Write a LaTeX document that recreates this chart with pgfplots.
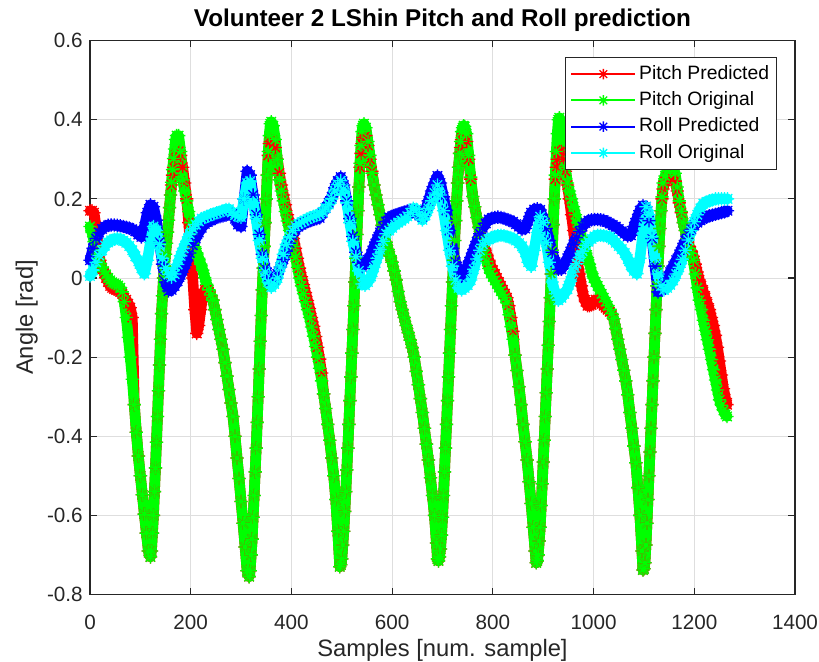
\documentclass[border=0pt]{standalone}
\usepackage{fontspec}
\setmainfont{Liberation Sans}
\usepackage{pgfplots}
\usepackage{pgfplotstable}
\pgfplotsset{compat=1.18}
\definecolor{axgray}{rgb}{0.15,0.15,0.15}
\definecolor{gridgray}{rgb}{0.87,0.87,0.87}
\definecolor{mred}{rgb}{1,0,0}
\definecolor{mgreen}{rgb}{0,1,0}
\definecolor{mblue}{rgb}{0,0,1}
\definecolor{mcyan}{rgb}{0,1,1}
\pgfdeclareplotmark{mstar}{%
  \pgfpathmoveto{\pgfqpoint{-\pgfplotmarksize}{0pt}}\pgfpathlineto{\pgfqpoint{\pgfplotmarksize}{0pt}}%
  \pgfpathmoveto{\pgfqpoint{0pt}{-\pgfplotmarksize}}\pgfpathlineto{\pgfqpoint{0pt}{\pgfplotmarksize}}%
  \pgfpathmoveto{\pgfqpoint{-0.7071\pgfplotmarksize}{-0.7071\pgfplotmarksize}}\pgfpathlineto{\pgfqpoint{0.7071\pgfplotmarksize}{0.7071\pgfplotmarksize}}%
  \pgfpathmoveto{\pgfqpoint{-0.7071\pgfplotmarksize}{0.7071\pgfplotmarksize}}\pgfpathlineto{\pgfqpoint{0.7071\pgfplotmarksize}{-0.7071\pgfplotmarksize}}%
  \pgfusepathqstroke}

\pgfplotstableread{
s po pp
0 0.130 0.170
4 0.115 0.170
8 0.092 0.165
12 0.070 0.130
16 0.050 0.080
20 0.036 0.045
24 0.026 0.025
28 0.017 0.012
32 0.009 0.000
36 0.000 -0.010
40 -0.006 -0.020
44 -0.011 -0.025
48 -0.014 -0.028
52 -0.016 -0.030
56 -0.019 -0.032
60 -0.025 -0.035
64 -0.035 -0.040
68 -0.060 -0.050
72 -0.100 -0.055
76 -0.150 -0.065
80 -0.200 -0.075
84 -0.256 -0.100
88 -0.320 -0.320
92 -0.390 -0.390
96 -0.450 -0.450
100 -0.500 -0.500
104 -0.548 -0.548
108 -0.597 -0.597
112 -0.645 -0.645
116 -0.690 -0.690
120 -0.705 -0.705
122 -0.690 -0.690
124 -0.645 -0.645
126 -0.600 -0.600
128 -0.540 -0.540
130 -0.480 -0.480
132 -0.415 -0.415
134 -0.350 -0.350
136 -0.285 -0.285
138 -0.220 -0.220
140 -0.155 -0.155
142 -0.090 -0.090
144 -0.045 -0.045
146 0.000 0.000
148 0.030 0.030
150 0.060 0.060
152 0.088 0.088
154 0.116 0.116
156 0.146 0.146
158 0.178 0.178
160 0.210 0.210
162 0.242 0.235
164 0.274 0.260
166 0.302 0.280
168 0.326 0.300
170 0.350 0.310
172 0.360 0.315
176 0.360 0.320
180 0.320 0.310
184 0.248 0.280
188 0.220 0.240
192 0.195 0.200
196 0.168 0.140
200 0.140 0.070
204 0.110 0.000
208 0.079 -0.080
212 0.064 -0.140
216 0.050 -0.120
220 0.035 -0.080
224 0.020 -0.045
228 0.001 -0.030
232 -0.016 -0.030
236 -0.030 -0.035
240 -0.043 -0.045
244 -0.056 -0.056
248 -0.080 -0.080
252 -0.105 -0.105
256 -0.130 -0.130
260 -0.155 -0.155
264 -0.180 -0.180
268 -0.214 -0.214
272 -0.248 -0.248
276 -0.282 -0.282
280 -0.316 -0.316
284 -0.350 -0.350
288 -0.400 -0.400
292 -0.455 -0.455
296 -0.507 -0.507
300 -0.565 -0.565
304 -0.620 -0.620
308 -0.680 -0.680
312 -0.740 -0.740
316 -0.755 -0.755
318 -0.740 -0.740
320 -0.700 -0.700
322 -0.660 -0.660
324 -0.605 -0.605
326 -0.550 -0.550
328 -0.490 -0.490
330 -0.430 -0.430
332 -0.365 -0.365
334 -0.300 -0.300
336 -0.230 -0.230
338 -0.160 -0.160
340 -0.095 -0.095
342 -0.030 -0.030
344 0.025 0.025
346 0.080 0.080
348 0.140 0.140
350 0.200 0.200
352 0.260 0.260
354 0.320 0.310
356 0.360 0.340
358 0.390 0.345
360 0.395 0.350
364 0.385 0.345
368 0.350 0.330
372 0.300 0.300
376 0.248 0.265
380 0.220 0.235
384 0.195 0.210
388 0.168 0.185
392 0.144 0.160
396 0.120 0.140
400 0.100 0.120
404 0.080 0.100
408 0.053 0.075
412 0.027 0.050
416 0.000 0.025
420 -0.020 0.003
424 -0.040 -0.017
428 -0.060 -0.037
432 -0.080 -0.057
436 -0.100 -0.077
440 -0.124 -0.100
444 -0.147 -0.122
448 -0.173 -0.148
452 -0.200 -0.175
456 -0.228 -0.205
460 -0.260 -0.240
464 -0.293 -0.293
468 -0.330 -0.330
472 -0.370 -0.370
476 -0.410 -0.410
480 -0.455 -0.455
484 -0.500 -0.500
488 -0.560 -0.560
492 -0.640 -0.640
496 -0.730 -0.730
498 -0.725 -0.725
500 -0.710 -0.710
502 -0.675 -0.675
504 -0.640 -0.640
506 -0.590 -0.590
508 -0.540 -0.540
510 -0.485 -0.485
512 -0.430 -0.430
514 -0.370 -0.370
516 -0.310 -0.310
518 -0.250 -0.250
520 -0.190 -0.190
522 -0.130 -0.130
524 -0.070 -0.070
526 -0.010 -0.010
528 0.050 0.050
530 0.110 0.110
532 0.170 0.170
534 0.230 0.230
536 0.290 0.280
538 0.335 0.315
540 0.370 0.340
542 0.385 0.355
544 0.390 0.360
548 0.380 0.360
552 0.345 0.335
556 0.310 0.300
560 0.265 0.270
564 0.235 0.235
568 0.210 0.210
572 0.185 0.185
576 0.160 0.160
580 0.133 0.133
584 0.110 0.110
588 0.090 0.090
592 0.072 0.072
596 0.056 0.056
600 0.040 0.040
604 0.018 0.018
608 -0.005 -0.005
612 -0.034 -0.034
616 -0.060 -0.060
620 -0.080 -0.080
624 -0.100 -0.100
628 -0.120 -0.120
632 -0.138 -0.138
636 -0.157 -0.157
640 -0.176 -0.176
644 -0.200 -0.200
648 -0.236 -0.236
652 -0.270 -0.270
656 -0.305 -0.305
660 -0.340 -0.340
664 -0.380 -0.380
668 -0.420 -0.420
672 -0.460 -0.460
676 -0.505 -0.505
680 -0.550 -0.550
684 -0.600 -0.600
688 -0.670 -0.670
690 -0.710 -0.710
692 -0.715 -0.715
694 -0.705 -0.705
696 -0.685 -0.685
698 -0.650 -0.650
700 -0.605 -0.605
702 -0.550 -0.550
704 -0.490 -0.490
706 -0.430 -0.430
708 -0.370 -0.370
710 -0.310 -0.310
712 -0.250 -0.250
714 -0.190 -0.190
716 -0.130 -0.130
718 -0.070 -0.070
720 -0.010 -0.010
722 0.045 0.045
724 0.095 0.095
726 0.145 0.145
728 0.195 0.195
730 0.240 0.240
732 0.280 0.280
734 0.315 0.315
736 0.345 0.330
738 0.370 0.350
740 0.380 0.360
742 0.385 0.365
744 0.383 0.360
748 0.365 0.345
752 0.310 0.300
756 0.255 0.250
760 0.206 0.206
764 0.180 0.180
768 0.153 0.153
772 0.128 0.128
776 0.103 0.103
780 0.079 0.079
784 0.060 0.075
788 0.042 0.060
792 0.024 0.045
796 0.012 0.030
800 0.003 0.020
804 -0.006 0.010
808 -0.015 0.000
812 -0.024 -0.010
816 -0.033 -0.020
820 -0.042 -0.030
824 -0.050 -0.040
828 -0.063 -0.050
832 -0.093 -0.070
836 -0.123 -0.100
840 -0.155 -0.135
844 -0.195 -0.195
848 -0.234 -0.234
852 -0.275 -0.275
856 -0.320 -0.320
860 -0.370 -0.370
864 -0.414 -0.414
868 -0.460 -0.460
872 -0.515 -0.515
876 -0.570 -0.570
880 -0.630 -0.630
884 -0.690 -0.690
886 -0.720 -0.720
888 -0.715 -0.715
890 -0.700 -0.700
892 -0.665 -0.665
894 -0.630 -0.630
896 -0.575 -0.575
898 -0.520 -0.520
900 -0.465 -0.465
902 -0.410 -0.410
904 -0.350 -0.350
906 -0.290 -0.290
908 -0.230 -0.230
910 -0.170 -0.170
912 -0.110 -0.110
914 -0.050 -0.050
916 0.010 0.010
918 0.070 0.070
920 0.135 0.135
922 0.200 0.200
924 0.260 0.250
926 0.320 0.280
928 0.365 0.300
930 0.400 0.315
932 0.405 0.320
936 0.395 0.320
940 0.350 0.300
944 0.280 0.270
948 0.240 0.235
952 0.220 0.200
956 0.200 0.160
960 0.180 0.120
964 0.160 0.080
968 0.140 0.040
972 0.120 0.010
976 0.103 -0.020
980 0.086 -0.045
984 0.069 -0.060
988 0.052 -0.070
992 0.035 -0.070
996 0.015 -0.068
1000 0.000 -0.060
1004 -0.010 -0.055
1008 -0.020 -0.055
1012 -0.030 -0.060
1016 -0.040 -0.065
1020 -0.050 -0.070
1024 -0.060 -0.075
1028 -0.070 -0.080
1032 -0.080 -0.085
1036 -0.090 -0.092
1040 -0.103 -0.103
1044 -0.128 -0.128
1048 -0.155 -0.155
1052 -0.180 -0.180
1056 -0.206 -0.206
1060 -0.233 -0.233
1064 -0.260 -0.260
1068 -0.295 -0.295
1072 -0.340 -0.340
1076 -0.380 -0.380
1080 -0.425 -0.425
1084 -0.467 -0.467
1088 -0.530 -0.530
1092 -0.600 -0.600
1096 -0.690 -0.690
1098 -0.738 -0.738
1100 -0.735 -0.735
1102 -0.720 -0.720
1104 -0.675 -0.675
1106 -0.620 -0.620
1108 -0.560 -0.560
1110 -0.500 -0.500
1112 -0.440 -0.440
1114 -0.380 -0.380
1116 -0.320 -0.320
1118 -0.260 -0.260
1120 -0.200 -0.200
1122 -0.140 -0.140
1124 -0.080 -0.080
1126 -0.020 -0.020
1128 0.030 0.030
1130 0.080 0.080
1132 0.125 0.125
1134 0.170 0.170
1136 0.205 0.200
1138 0.240 0.225
1142 0.258 0.245
1146 0.270 0.255
1150 0.280 0.260
1154 0.280 0.260
1158 0.275 0.255
1162 0.265 0.245
1166 0.230 0.220
1170 0.195 0.190
1174 0.168 0.165
1178 0.140 0.140
1182 0.120 0.120
1186 0.100 0.100
1190 0.075 0.080
1194 0.062 0.068
1198 0.045 0.055
1202 0.010 0.035
1206 -0.025 0.015
1210 -0.056 -0.005
1214 -0.080 -0.020
1218 -0.107 -0.035
1222 -0.132 -0.050
1226 -0.156 -0.065
1230 -0.180 -0.080
1234 -0.206 -0.100
1238 -0.232 -0.120
1242 -0.258 -0.145
1246 -0.283 -0.175
1250 -0.308 -0.210
1254 -0.322 -0.245
1258 -0.335 -0.280
1262 -0.345 -0.305
1265 -0.350 -0.320
}\pitch

\pgfplotstableread{
s ro rp
0 0.005 0.045
6 0.020 0.075
12 0.040 0.100
18 0.057 0.115
24 0.070 0.124
30 0.082 0.130
36 0.090 0.133
42 0.095 0.134
48 0.098 0.134
54 0.100 0.133
60 0.098 0.132
66 0.094 0.130
72 0.089 0.128
78 0.081 0.126
84 0.070 0.123
90 0.055 0.118
96 0.042 0.110
102 0.025 0.104
108 0.011 0.130
114 0.045 0.165
120 0.090 0.185
126 0.130 0.180
132 0.120 0.146
138 0.085 0.090
144 0.050 0.035
150 0.025 -0.010
156 0.009 -0.033
162 0.002 -0.030
168 0.010 -0.020
174 0.034 -0.008
180 0.056 0.008
186 0.075 0.025
192 0.093 0.043
198 0.111 0.063
204 0.125 0.083
210 0.135 0.100
216 0.143 0.115
222 0.150 0.127
228 0.153 0.137
234 0.156 0.142
240 0.160 0.146
246 0.162 0.150
252 0.165 0.153
258 0.167 0.155
264 0.170 0.157
270 0.173 0.159
276 0.174 0.161
282 0.166 0.162
288 0.159 0.150
294 0.156 0.135
300 0.154 0.130
306 0.200 0.200
312 0.240 0.270
318 0.245 0.260
324 0.190 0.210
330 0.150 0.160
336 0.095 0.110
342 0.050 0.060
348 0.015 0.025
354 -0.010 0.002
360 -0.023 -0.008
366 -0.015 -0.005
372 0.000 0.010
378 0.028 0.028
384 0.060 0.047
390 0.085 0.068
396 0.104 0.088
402 0.120 0.108
408 0.131 0.122
414 0.137 0.130
420 0.141 0.135
426 0.145 0.139
432 0.149 0.142
438 0.153 0.145
444 0.156 0.148
450 0.158 0.150
456 0.161 0.152
462 0.167 0.165
468 0.177 0.177
474 0.186 0.190
480 0.200 0.205
486 0.220 0.228
492 0.236 0.245
498 0.246 0.255
504 0.225 0.235
510 0.190 0.195
516 0.140 0.150
522 0.093 0.105
528 0.054 0.065
534 0.018 0.040
540 -0.015 0.028
546 -0.018 0.035
552 -0.010 0.046
558 0.004 0.060
564 0.027 0.080
570 0.050 0.098
576 0.072 0.115
582 0.093 0.130
588 0.112 0.143
594 0.120 0.153
600 0.127 0.156
606 0.135 0.159
612 0.140 0.162
618 0.145 0.164
624 0.150 0.167
630 0.156 0.169
636 0.165 0.171
642 0.176 0.168
648 0.174 0.163
654 0.160 0.158
660 0.147 0.155
666 0.158 0.170
672 0.176 0.195
678 0.195 0.220
684 0.215 0.240
690 0.235 0.258
696 0.210 0.240
702 0.170 0.205
708 0.120 0.171
714 0.070 0.120
720 0.030 0.075
726 -0.005 0.040
732 -0.025 0.015
738 -0.030 0.003
744 -0.025 0.012
750 -0.018 0.032
756 -0.005 0.052
762 0.022 0.072
768 0.048 0.092
774 0.070 0.112
780 0.085 0.127
786 0.094 0.138
792 0.098 0.148
798 0.102 0.151
804 0.105 0.153
810 0.107 0.154
816 0.108 0.153
822 0.107 0.151
828 0.105 0.148
834 0.102 0.145
840 0.100 0.142
846 0.095 0.136
852 0.088 0.130
858 0.080 0.123
864 0.065 0.125
870 0.040 0.145
876 0.030 0.165
882 0.070 0.173
888 0.115 0.175
894 0.155 0.172
900 0.140 0.150
906 0.090 0.125
912 0.040 0.095
918 -0.010 0.065
924 -0.040 0.040
930 -0.056 0.022
936 -0.050 0.022
942 -0.040 0.035
948 -0.028 0.050
954 -0.008 0.067
960 0.015 0.085
966 0.036 0.102
972 0.052 0.118
978 0.068 0.130
984 0.083 0.139
990 0.092 0.145
996 0.099 0.147
1002 0.105 0.148
1008 0.108 0.148
1014 0.108 0.147
1020 0.107 0.146
1026 0.105 0.142
1032 0.104 0.138
1038 0.097 0.134
1044 0.089 0.130
1050 0.081 0.124
1056 0.073 0.118
1062 0.063 0.112
1068 0.048 0.106
1074 0.032 0.108
1080 0.018 0.130
1086 0.011 0.150
1092 0.050 0.170
1098 0.112 0.183
1104 0.180 0.180
1110 0.160 0.145
1116 0.105 0.100
1122 0.050 0.030
1128 0.010 -0.035
1134 -0.020 -0.030
1140 -0.030 -0.015
1146 -0.025 0.000
1152 -0.017 0.015
1158 -0.006 0.030
1164 0.010 0.045
1170 0.027 0.060
1176 0.047 0.077
1182 0.070 0.095
1188 0.096 0.110
1194 0.120 0.123
1200 0.142 0.133
1206 0.160 0.140
1212 0.176 0.146
1218 0.188 0.151
1224 0.192 0.154
1230 0.195 0.157
1236 0.197 0.159
1242 0.200 0.161
1248 0.200 0.163
1254 0.200 0.165
1260 0.200 0.167
1266 0.200 0.170
}\roll

\begin{document}
\begin{tikzpicture}
\begin{axis}[
  scale only axis,
  width=528.75pt, height=415.35pt,
  xmin=0, xmax=1400, ymin=-0.8, ymax=0.6,
  xtick={0,200,400,600,800,1000,1200,1400},
  xticklabels={0,200,400,600,800,1000,1200,1400},
  ytick={-0.8,-0.6,-0.4,-0.2,0,0.2,0.4,0.6},
  yticklabels={-0.8,-0.6,-0.4,-0.2,0,0.2,0.4,0.6},
  tick align=inside, tick pos=both, major tick length=5pt,
  grid=major, major grid style={gridgray, line width=0.6pt},
  axis line style={axgray, line width=0.8pt},
  every tick/.style={axgray, line width=0.8pt},
  tick label style={font=\fontsize{15.5}{18}\selectfont, text=axgray},
  xticklabel style={yshift=-12pt},
  yticklabel style={xshift=-2pt},
  xlabel={Samples [num. sample]}, ylabel={Angle [rad]},
  label style={font=\fontsize{17.8}{20}\selectfont, text=axgray},
  title={Volunteer 2 LShin Pitch and Roll prediction},
  title style={font=\fontsize{18.2}{21}\selectfont\bfseries, yshift=-3pt},
  clip=false,
  legend style={at={(rel axis cs:1,1)}, anchor=north east, xshift=-13.5pt, yshift=-12.2pt,
    font=\fontsize{14.5}{17}\selectfont, draw=axgray, line width=0.8pt, inner sep=3.5pt,
    row sep=1.7pt, column sep=0pt, nodes={inner sep=2pt, text height=11pt, text depth=3pt}},
  legend cell align=left,
  legend image code/.code={\draw[mark repeat=2, mark phase=2, #1, mark size=4pt, line width=1.6pt] plot coordinates {(0pt,0pt) (24pt,0pt) (48pt,0pt)};},
  band/.style={line width=8pt, no markers, forget plot, line join=round, line cap=round},
  ser/.style={line width=1.3pt, mark=mstar, mark size=5pt, mark options={solid, line width=1pt}},
]
\addplot[mred, band] table[x=s, y=pp] {\pitch};
\addplot[mred, ser] table[x=s, y=pp] {\pitch};
\addlegendentry{Pitch Predicted}
\addplot[mgreen, band] table[x=s, y=po] {\pitch};
\addplot[mgreen, ser] table[x=s, y=po] {\pitch};
\addlegendentry{Pitch Original}
\addplot[mblue, band] table[x=s, y=rp] {\roll};
\addplot[mblue, ser] table[x=s, y=rp] {\roll};
\addlegendentry{Roll Predicted}
\addplot[mcyan, band] table[x=s, y=ro] {\roll};
\addplot[mcyan, ser] table[x=s, y=ro] {\roll};
\addlegendentry{Roll Original}
\end{axis}
\pgfresetboundingbox
\path[use as bounding box] ([xshift=-67.5pt,yshift=-50.6pt]current axis.south west) rectangle ([xshift=18pt,yshift=30.5pt]current axis.north east);
\end{tikzpicture}
\end{document}
